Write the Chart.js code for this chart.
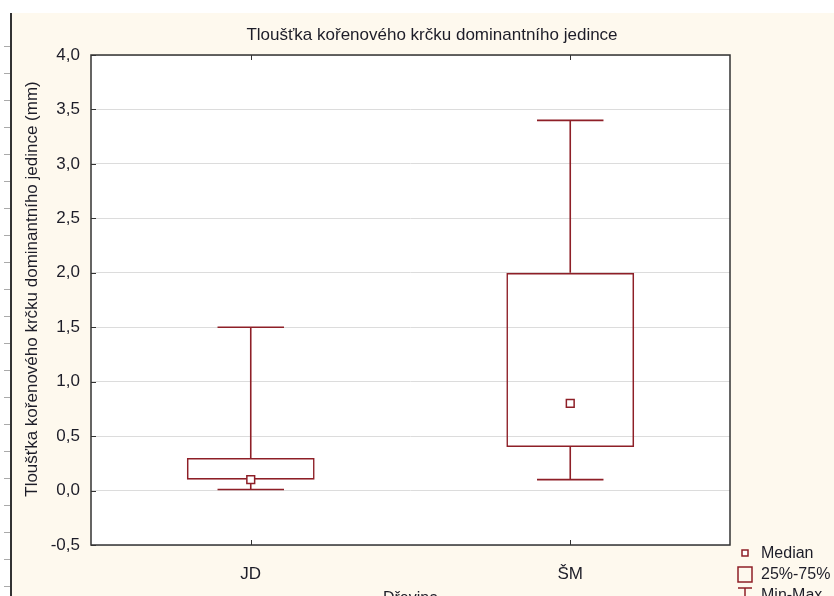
<!DOCTYPE html>
<html>
<head>
<meta charset="utf-8">
<script src="https://cdn.jsdelivr.net/npm/chart.js@4/dist/chart.umd.min.js"></script>
<style>
    html, body { margin: 0; padding: 0; background: #ffffff; overflow: hidden; }
    body { width: 834px; height: 596px; position: relative; }
    #frame { position: absolute; left: 12px; top: 13px; width: 822px; height: 607px; background: #fef9ee; }
    #edge { position: absolute; left: 10px; top: 13px; width: 2px; height: 600px; background: #333; }
    #marks { position: absolute; left: 4px; top: 20px; width: 6px; height: 580px;
        background: repeating-linear-gradient(to bottom, transparent 0, transparent 26px, #aaa 26px, #aaa 27px); }
</style>
</head>
<body>
<div id="marks"></div>
<div id="edge"></div>
<div id="frame"><canvas id="boxChart" width="822" height="607"></canvas></div>
<script>
// 数据
const categories = ['JD', 'ŠM'];
const minValues = [0.01, 0.1];
const q1Values = [0.1, 0.4];
const medianValues = [0.1, 0.8];
const q3Values = [0.3, 2.0];
const maxValues = [1.5, 3.4];

const RED = '#8e1f27';
const FONT = "'Liberation Sans', Arial, sans-serif";
const TEXT = '#1d1d28';

// 白色绘图区 + 须线 + 标题 + 图例
const boxPlugin = {
    id: 'boxPlugin',
    beforeDraw(chart) {
        const { ctx, chartArea: a } = chart;
        ctx.save();
        ctx.fillStyle = '#ffffff';
        ctx.fillRect(a.left, a.top, a.right - a.left, a.bottom - a.top);
        ctx.restore();
    },
    beforeDatasetsDraw(chart) {
        const { ctx, scales: { x, y } } = chart;
        ctx.save();
        const catW = x.getPixelForValue(1) - x.getPixelForValue(0);
        const cap = catW * 0.104;
        ctx.strokeStyle = RED;
        ctx.lineWidth = 1.6;
        categories.forEach((c, i) => {
            const cx = x.getPixelForValue(i);
            ctx.beginPath();
            ctx.moveTo(cx, y.getPixelForValue(q3Values[i]));
            ctx.lineTo(cx, y.getPixelForValue(maxValues[i]));
            ctx.moveTo(cx - cap, y.getPixelForValue(maxValues[i]));
            ctx.lineTo(cx + cap, y.getPixelForValue(maxValues[i]));
            ctx.moveTo(cx, y.getPixelForValue(q1Values[i]));
            ctx.lineTo(cx, y.getPixelForValue(minValues[i]));
            ctx.moveTo(cx - cap, y.getPixelForValue(minValues[i]));
            ctx.lineTo(cx + cap, y.getPixelForValue(minValues[i]));
            ctx.stroke();
        });
        ctx.restore();
    },
    afterDraw(chart) {
        const { ctx, chartArea: a, scales: { x, y } } = chart;
        ctx.save();
        // 边框
        ctx.strokeStyle = '#333333';
        ctx.lineWidth = 1.5;
        ctx.strokeRect(a.left, a.top, a.right - a.left, a.bottom - a.top);
        // 刻度
        ctx.lineWidth = 1;
        ctx.beginPath();
        categories.forEach((c, i) => {
            const cx = Math.round(x.getPixelForValue(i)) + 0.5;
            ctx.moveTo(cx, a.top); ctx.lineTo(cx, a.top + 5);
            ctx.moveTo(cx, a.bottom); ctx.lineTo(cx, a.bottom - 5);
        });
        y.ticks.forEach(t => {
            const py = Math.round(y.getPixelForValue(t.value)) + 0.5;
            ctx.moveTo(a.left, py); ctx.lineTo(a.left + 5, py);
        });
        ctx.stroke();

        // 标题
        ctx.fillStyle = TEXT;
        ctx.font = `17px ${FONT}`;
        ctx.textAlign = 'center';
        ctx.textBaseline = 'middle';
        ctx.fillText('Tloušťka kořenového krčku dominantního jedince', 420, 22);

        // Y 轴标题
        ctx.save();
        ctx.translate(20, 276);
        ctx.rotate(-Math.PI / 2);
        ctx.fillText('Tloušťka kořenového krčku dominantního jedince (mm)', 0, 0);
        ctx.restore();

        // 图例
        const lx = 726;
        ctx.textAlign = 'left';
        ctx.font = `16px ${FONT}`;
        ctx.strokeStyle = RED;
        ctx.lineWidth = 1.5;
        ctx.fillStyle = '#ffffff';
        ctx.fillRect(lx + 4, 537, 6, 6);
        ctx.strokeRect(lx + 4, 537, 6, 6);
        ctx.fillStyle = TEXT;
        ctx.fillText('Median', 749, 541);
        ctx.strokeRect(lx, 554, 14, 15);
        ctx.fillText('25%-75%', 749, 562);
        ctx.beginPath();
        ctx.moveTo(lx, 575); ctx.lineTo(lx + 14, 575);
        ctx.moveTo(lx + 7, 575); ctx.lineTo(lx + 7, 592);
        ctx.stroke();
        ctx.fillText('Min-Max', 749, 583);
        ctx.restore();
    }
};

const ctx = document.getElementById('boxChart').getContext('2d');
new Chart(ctx, {
    data: {
        labels: categories,
        datasets: [{
            type: 'bar',
            data: q1Values.map((q, i) => [q, q3Values[i]]),
            backgroundColor: 'rgba(0,0,0,0)',
            borderColor: RED,
            borderWidth: 1.6,
            borderSkipped: false,
            barPercentage: 0.4,
            categoryPercentage: 1.0,
            order: 2
        }, {
            type: 'line',
            data: medianValues,
            showLine: false,
            pointStyle: 'rect',
            pointRadius: 5.5,
            pointBorderWidth: 1.5,
            borderColor: RED,
            backgroundColor: '#ffffff',
            order: 1
        }]
    },
    options: {
        responsive: false,
        animation: false,
        layout: { padding: { left: 0, right: 104, top: 42, bottom: 0 } },
        plugins: {
            legend: { display: false },
            tooltip: { enabled: false }
        },
        scales: {
            x: {
                grid: { display: false },
                border: { display: false },
                ticks: { color: TEXT, font: { family: FONT, size: 17 }, padding: 11 },
                title: {
                    display: true,
                    text: 'Dřevina',
                    color: TEXT,
                    font: { family: FONT, size: 16 },
                    padding: { top: 0, bottom: 12 }
                },
                afterFit: scale => { scale.height = 75; }
            },
            y: {
                min: -0.5,
                max: 4,
                grid: { color: '#dcdcdc', drawTicks: false },
                border: { display: false },
                ticks: {
                    stepSize: 0.5,
                    color: TEXT,
                    font: { family: FONT, size: 17 },
                    padding: 11,
                    callback: v => v.toFixed(1).replace('.', ',')
                },
                afterFit: scale => { scale.width = 79; }
            }
        }
    },
    plugins: [boxPlugin]
});
</script>
</body>
</html>
